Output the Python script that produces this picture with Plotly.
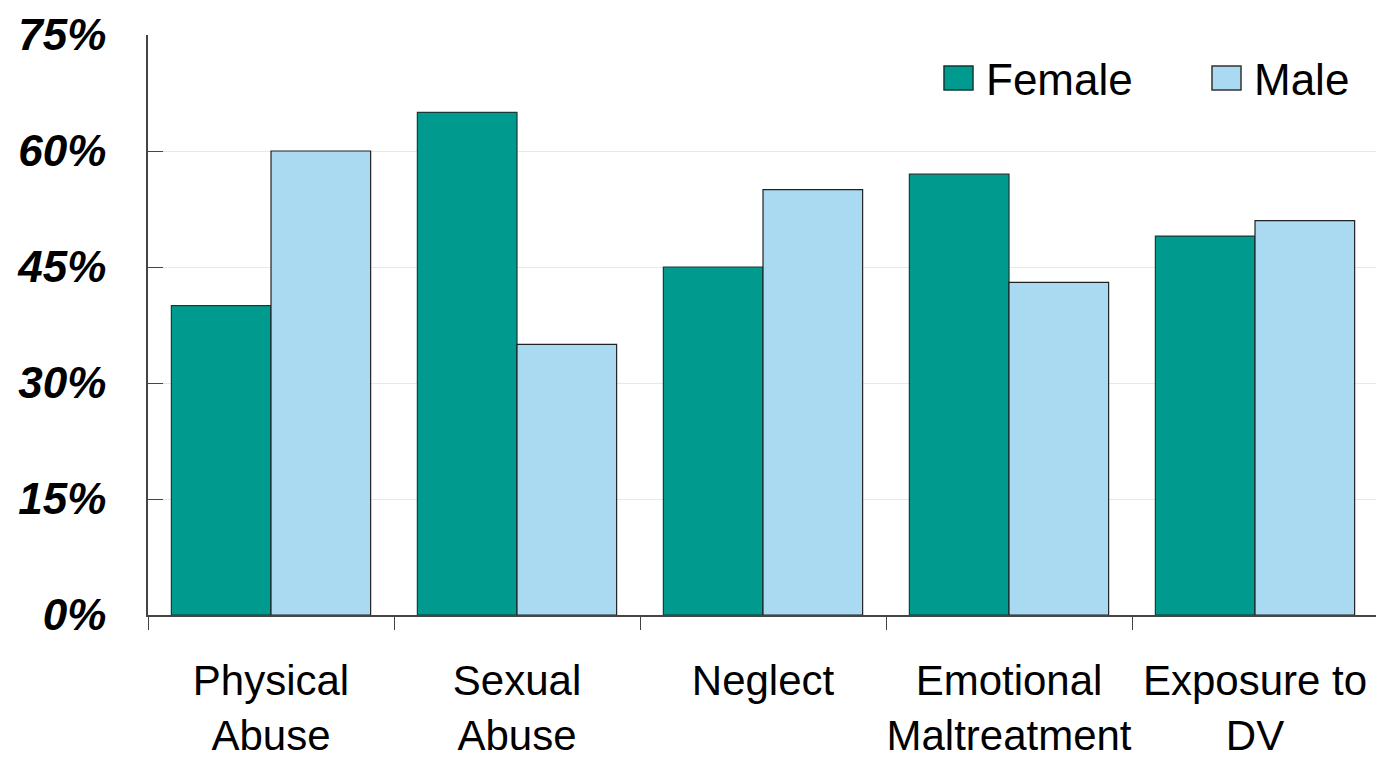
import plotly.graph_objects as go

categories = ["Physical<br>Abuse", "Sexual<br>Abuse", "Neglect", "Emotional<br>Maltreatment", "Exposure to<br>DV"]
female = [40, 65, 45, 57, 49]
male = [60, 35, 55, 43, 51]
series_names = ["Female", "Male"]
series_colors = ["#009A8E", "#A9DAF1"]
y_ticks = [0, 15, 30, 45, 60, 75]
y_tick_labels = ["0%", "15%", "30%", "45%", "60%", "75%"]

FONT = "Liberation Sans, Arial, sans-serif"

fig = go.Figure()
fig.add_trace(go.Bar(name=series_names[0], x=categories, y=female, showlegend=False,
                     marker=dict(color=series_colors[0], line=dict(color="#1a3a38", width=1.2))))
fig.add_trace(go.Bar(name=series_names[1], x=categories, y=male, showlegend=False,
                     marker=dict(color=series_colors[1], line=dict(color="#222222", width=1.2))))

W, H = 1384, 757
OFF = 8  # page body margin
L_page, T_page, R_page, B_page = 148, 35, 1378, 615
pw, ph = R_page - L_page, B_page - T_page
mL, mT = L_page - OFF, T_page - OFF
mR = W - mL - pw
mB = H - mT - ph

def px(x):
    return (x - L_page) / pw

def py(y):
    return (B_page - y) / ph

legend_items = [(944, series_names[0], series_colors[0], "#0b3b36"),
                (1212, series_names[1], series_colors[1], "#333333")]
for x0, name, col, lc in legend_items:
    fig.add_shape(type="rect", xref="paper", yref="paper",
                  x0=px(x0), x1=px(x0 + 29), y0=py(66), y1=py(90),
                  fillcolor=col, line=dict(color=lc, width=1.5))
    fig.add_annotation(xref="paper", yref="paper", x=px(x0 + 40), y=py(79),
                       text=name, showarrow=False, xanchor="left", yanchor="middle",
                       font=dict(size=44, family=FONT, color="black"))

fig.update_layout(
    width=W, height=H,
    margin=dict(l=mL, r=mR, t=mT, b=mB),
    paper_bgcolor="white", plot_bgcolor="white",
    barmode="group", bargap=0.19, bargroupgap=0,
    font=dict(family=FONT, color="black"),
    showlegend=False,
)
fig.update_yaxes(range=[0, 75], tickvals=y_ticks, ticktext=y_tick_labels,
                 tickfont=dict(size=44, family=FONT, weight="bold", style="italic"),
                 showgrid=True, gridcolor="#E8E8E8", gridwidth=1,
                 showline=True, linecolor="#444444", linewidth=1.5,
                 ticks="inside", ticklen=15, tickcolor="#444444",
                 ticklabelstandoff=31, zeroline=False, automargin=False)
fig.update_xaxes(tickfont=dict(size=42, family=FONT), tickangle=0,
                 showline=True, linecolor="#444444", linewidth=1.5,
                 ticks="outside", ticklen=13, tickcolor="#444444",
                 tickson="boundaries", showgrid=False, automargin=False,
                 ticklabelstandoff=28)

fig.write_html("out.html")
